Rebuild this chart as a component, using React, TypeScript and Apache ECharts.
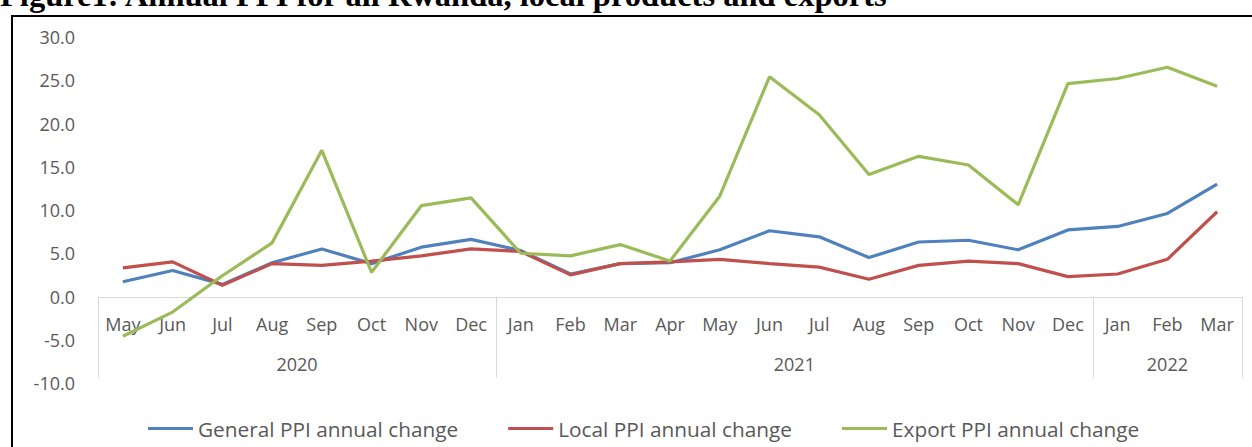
import React, { useEffect, useRef } from "react";
import * as echarts from "echarts";

const months = ["May", "Jun", "Jul", "Aug", "Sep", "Oct", "Nov", "Dec", "Jan", "Feb", "Mar", "Apr", "May", "Jun", "Jul", "Aug", "Sep", "Oct", "Nov", "Dec", "Jan", "Feb", "Mar"];
const years = ["2020", "2021", "2022"];
const yearCenters = [4, 14, 21.5];
const yearBounds = [0, 8, 20, 23];

const general = [1.7, 3.0, 1.4, 3.9, 5.5, 3.8, 5.7, 6.6, 5.3, 2.6, 3.8, 3.9, 5.4, 7.6, 6.9, 4.5, 6.3, 6.5, 5.4, 7.7, 8.1, 9.6, 13.0];
const local = [3.3, 4.0, 1.3, 3.8, 3.6, 4.1, 4.7, 5.5, 5.2, 2.5, 3.8, 4.0, 4.3, 3.8, 3.4, 2.0, 3.6, 4.1, 3.8, 2.3, 2.6, 4.3, 9.8];
const exportPPI = [-4.6, -1.8, 2.4, 6.2, 16.9, 2.8, 10.5, 11.4, 5.0, 4.7, 6.0, 4.1, 11.6, 25.4, 21.0, 14.1, 16.2, 15.2, 10.6, 24.6, 25.2, 26.5, 24.3];

const seriesNames = ["General PPI annual change", "Local PPI annual change", "Export PPI annual change"];
const colors = ["#4f81bd", "#c0504d", "#9bbb59"];
const title = "Figure1: Annual PPI for all Rwanda, local products and exports";

export default function App() {
  const ref = useRef<HTMLDivElement>(null);
  useEffect(() => {
    if (!ref.current) return;
    const chart = echarts.init(ref.current, undefined, { renderer: "svg" });
    const font = "Open Sans";
    const txt = "#595959";
    const fs = 18;
    chart.setOption({
      animation: false,
      color: colors,
      textStyle: { fontFamily: font },
      grid: { left: 98, right: 10, top: 37, bottom: 64, containLabel: false },
      graphic: [
        {
          type: "rect",
          shape: { x: 12, y: 16, width: 1300, height: 500 },
          style: { fill: "none", stroke: "#000", lineWidth: 2 },
          silent: true,
        },
        {
          type: "text",
          x: 0,
          y: 11,
          style: {
            text: title,
            fontFamily: "Liberation Serif",
            fontWeight: "bold",
            fontSize: 32.5,
            fill: "#000",
            verticalAlign: "bottom",
          },
        },
      ],
      legend: {
        top: 413,
        left: 143,
        icon: "rect",
        itemWidth: 45,
        itemHeight: 3,
        itemGap: 50,
        textStyle: { color: txt, fontSize: 20.8, fontFamily: font },
        data: seriesNames,
      },
      xAxis: [
        {
          type: "category",
          data: months,
          boundaryGap: true,
          position: "bottom",
          offset: -86,
          axisLine: { onZero: false, lineStyle: { color: "#d9d9d9", width: 1 } },
          axisTick: { show: false },
          axisLabel: { color: txt, fontSize: fs, margin: 18, interval: 0 },
        },
        {
          type: "value",
          min: 0,
          max: 23,
          position: "bottom",
          offset: -86,
          axisLine: { show: false },
          splitLine: { show: false },
          axisTick: { show: true, customValues: yearBounds, length: 81, lineStyle: { color: "#d9d9d9" } },
          axisLabel: {
            show: true,
            customValues: yearCenters,
            margin: 58,
            color: txt,
            fontSize: fs,
            formatter: (v: number) => {
              const i = yearCenters.indexOf(v);
              return i >= 0 ? years[i] : "";
            },
          },
        },
      ],
      yAxis: {
        type: "value",
        min: -10,
        max: 30,
        interval: 5,
        axisLine: { show: false },
        axisTick: { show: false },
        splitLine: { show: false },
        axisLabel: { color: txt, fontSize: fs, margin: 23, formatter: (v: number) => v.toFixed(1) },
      },
      series: [general, local, exportPPI].map((d, i) => ({
        name: seriesNames[i],
        type: "line",
        xAxisIndex: 0,
        data: d,
        symbol: "none",
        lineStyle: { width: 3.2, color: colors[i] },
        itemStyle: { color: colors[i] },
      })),
    });
    return () => chart.dispose();
  }, []);
  return <div ref={ref} style={{ position: "absolute", left: 0, top: 0, width: 1252, height: 447 }} />;
}
